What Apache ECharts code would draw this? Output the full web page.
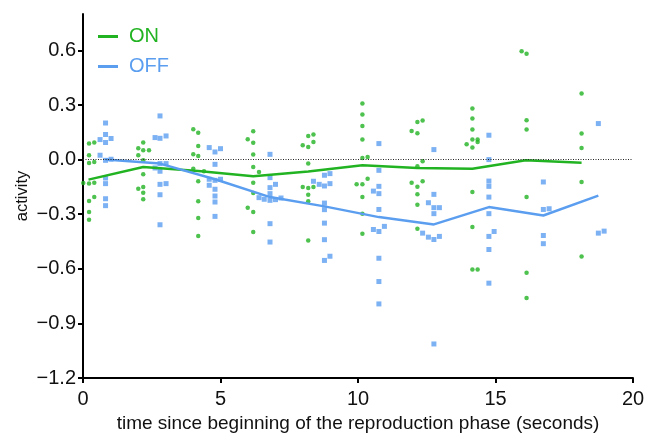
<!DOCTYPE html>
<html>
<head>
<meta charset="utf-8">
<script src="https://cdn.jsdelivr.net/npm/echarts@6/dist/echarts.min.js"></script>
<style>
  html, body { margin: 0; padding: 0; background: #fff; }
  #chart1 { width: 645px; height: 434px; }
</style>
</head>
<body>
<div id="chart1"></div>
<script>
// individual responses, [time, activity]
const onPoints = [
  [0.22, 0.088], [0.41, 0.094], [0.22, 0.024], [0.41, -0.013], [0.22, -0.019], [0.01, -0.129],
  [0.22, -0.132], [0.41, -0.127], [0.41, -0.206], [0.22, -0.228], [0.22, -0.288], [0.22, -0.33],
  [2.19, 0.094], [2.01, 0.063], [2.19, 0.051], [2.4, 0.051], [2.01, 0.024], [2.19, -0.004],
  [2.19, -0.081], [2.01, -0.16], [2.19, -0.151], [2.19, -0.182], [2.19, -0.218],
  [4.01, 0.167], [4.19, 0.147], [4.19, 0.075], [4.01, 0.029], [4.19, 0.02], [4.01, -0.05],
  [4.4, -0.064], [4.19, -0.119], [4.19, -0.229], [4.19, -0.321], [4.19, -0.42],
  [6.19, 0.156], [5.99, 0.112], [6.19, 0.092], [6.19, 0.028], [6.19, -0.041], [6.4, -0.068],
  [6.19, -0.127], [6.19, -0.184], [5.99, -0.264], [6.19, -0.288], [6.19, -0.398],
  [8.19, 0.13], [8.38, 0.138], [7.99, 0.079], [8.19, 0.069], [8.38, 0.097], [8.19, -0.022],
  [7.99, -0.151], [8.19, -0.156], [8.38, -0.151], [8.19, -0.193], [8.19, -0.229], [8.19, -0.444],
  [10.16, 0.308], [10.16, 0.248], [10.16, 0.185], [10.16, 0.11], [10.16, 0.009], [10.35, 0.014],
  [10.35, -0.105], [9.95, -0.136], [10.16, -0.136], [10.16, -0.206], [10.16, -0.297], [10.16, -0.407],
  [12.16, 0.207], [12.35, 0.215], [11.95, 0.157], [12.16, 0.145], [12.35, -0.009], [12.16, -0.037],
  [11.95, -0.127], [12.16, -0.149], [12.35, -0.119], [12.16, -0.191], [12.16, -0.248], [12.16, -0.38],
  [14.16, 0.281], [14.16, 0.226], [14.16, 0.165], [14.16, 0.11], [14.35, 0.11], [13.95, 0.084],
  [14.16, 0.066], [14.35, 0.097], [14.16, -0.178], [14.16, -0.371], [14.16, -0.604], [14.35, -0.604],
  [15.95, 0.596], [16.13, 0.581], [16.13, 0.216], [16.13, 0.165], [16.13, -0.206], [16.13, -0.622],
  [16.13, -0.76],
  [18.13, 0.363], [18.13, 0.143], [18.13, 0.064], [18.13, -0.123], [18.13, -0.532]
];

const offPoints = [
  [0.82, 0.201], [0.82, 0.138], [0.62, 0.11], [0.82, 0.094], [1.02, 0.116], [0.62, 0.024],
  [0.82, -0.004], [1.02, 0.002], [0.82, -0.101], [0.82, -0.132], [0.82, -0.215], [0.82, -0.253],
  [2.8, 0.24], [2.62, 0.121], [2.8, 0.117], [3.02, 0.13], [2.8, -0.022], [2.62, -0.046],
  [3.02, -0.022], [2.8, -0.064], [2.8, -0.136], [3.02, -0.132], [2.8, -0.193], [2.8, -0.358],
  [4.59, 0.066], [4.8, 0.042], [5.0, 0.06], [4.8, -0.026], [4.59, -0.108], [4.8, -0.114],
  [5.0, -0.108], [4.59, -0.141], [4.8, -0.163], [4.8, -0.2], [4.8, -0.233], [4.8, -0.312],
  [6.8, 0.029], [6.8, -0.099], [7.0, -0.136], [6.8, -0.154], [6.8, -0.187], [6.4, -0.209],
  [6.59, -0.218], [6.8, -0.224], [7.0, -0.22], [7.2, -0.211], [6.8, -0.352], [6.8, -0.453],
  [8.78, -0.086], [8.98, -0.077], [8.38, -0.119], [8.59, -0.136], [8.78, -0.145], [8.98, -0.132],
  [8.78, -0.239], [8.78, -0.275], [8.78, -0.349], [8.78, -0.44], [8.98, -0.531], [8.78, -0.554],
  [10.76, 0.088], [10.76, -0.059], [10.76, -0.147], [10.56, -0.173], [10.76, -0.187], [10.76, -0.274],
  [10.56, -0.384], [10.76, -0.395], [10.96, -0.367], [10.76, -0.542], [10.76, -0.67], [10.76, -0.793],
  [12.76, 0.055], [12.76, -0.191], [12.56, -0.237], [12.76, -0.264], [12.96, -0.264], [12.76, -0.297],
  [12.35, -0.404], [12.56, -0.426], [12.76, -0.439], [12.96, -0.422], [12.76, -1.013],
  [14.76, 0.134], [14.76, 0.0], [14.76, -0.118], [14.76, -0.147], [14.76, -0.206], [14.76, -0.297],
  [14.95, -0.395], [14.76, -0.422], [14.76, -0.494], [14.76, -0.679],
  [16.74, -0.123], [16.74, -0.274], [16.95, -0.27], [16.74, -0.417], [16.74, -0.462],
  [18.74, 0.198], [18.74, -0.404], [18.95, -0.393]
];

// mean lines
const onLineX = [0.2, 2.19, 4.19, 6.19, 8.19, 10.16, 12.16, 14.16, 16.1, 18.13];
const onLineY = [-0.11, -0.041, -0.063, -0.092, -0.066, -0.031, -0.046, -0.05, -0.004, -0.017];
const offLineX = [0.82, 2.8, 4.8, 6.8, 8.78, 10.76, 12.76, 14.76, 16.74, 18.74];
const offLineY = [0.0, -0.022, -0.108, -0.206, -0.257, -0.316, -0.356, -0.261, -0.307, -0.198];

const yTicks = [-1.2, -0.9, -0.6, -0.3, 0, 0.3, 0.6];
const xTicks = [0, 5, 10, 15, 20];

const green = '#22b322';
const blue = '#5b9ef0';
const font = 'Liberation Sans, Arial, sans-serif';

const chart1 = echarts.init(document.getElementById('chart1'));

const option = {
  animation: false,
  textStyle: { fontFamily: font },
  grid: { left: 83, right: 12, top: 14, bottom: 56, outerBoundsMode: 'none', containLabel: false },
  legend: {
    orient: 'vertical',
    left: 93,
    top: 21,
    itemWidth: 20,
    itemHeight: 3,
    itemGap: 9,
    icon: 'rect',
    textStyle: { fontSize: 20, lineHeight: 21, fontFamily: font, padding: [0, 0, 0, 6] },
    data: [
      { name: 'ON', textStyle: { color: green } },
      { name: 'OFF', textStyle: { color: blue } }
    ]
  },
  xAxis: {
    type: 'value',
    min: 0,
    max: 20,
    interval: 5,
    name: 'time since beginning of the reproduction phase (seconds)',
    nameLocation: 'middle',
    nameGap: 34,
    nameTextStyle: { fontSize: 19, color: '#111', fontFamily: font },
    splitLine: { show: false },
    axisLine: { onZero: false, lineStyle: { color: '#000', width: 2 } },
    axisTick: { length: 5, lineStyle: { color: '#000', width: 2 }, customValues: xTicks },
    axisLabel: { fontSize: 20, color: '#111', margin: 11, customValues: xTicks }
  },
  yAxis: {
    type: 'value',
    min: -1.2,
    max: 0.8,
    name: 'activity',
    nameLocation: 'middle',
    nameGap: 52,
    nameMoveOverlap: false,
    nameTextStyle: { fontSize: 16.5, color: '#111', fontFamily: font },
    splitLine: { show: false },
    axisLine: { onZero: false, lineStyle: { color: '#000', width: 2 } },
    axisTick: { length: 5, lineStyle: { color: '#000', width: 2 }, customValues: yTicks },
    axisLabel: {
      fontSize: 20, color: '#111', margin: 7, customValues: yTicks,
      formatter: v => v.toFixed(1).replace('-', '\u2212')
    }
  },
  series: [
    {
      name: 'ON points',
      type: 'scatter',
      data: onPoints,
      symbol: 'circle',
      symbolSize: 4.5,
      itemStyle: { color: green },
      markLine: {
        silent: true,
        symbol: 'none',
        label: { show: false },
        lineStyle: { color: '#222', type: [1, 1.5], width: 1 },
        data: [{ yAxis: 0 }]
      }
    },
    {
      name: 'OFF points',
      type: 'scatter',
      data: offPoints,
      symbol: 'rect',
      symbolSize: 5,
      itemStyle: { color: blue }
    },
    {
      name: 'ON',
      type: 'line',
      data: onLineX.map((x, i) => [x, onLineY[i]]),
      showSymbol: false,
      symbol: 'none',
      lineStyle: { color: green, width: 2.5 },
      itemStyle: { color: green },
      z: 3
    },
    {
      name: 'OFF',
      type: 'line',
      data: offLineX.map((x, i) => [x, offLineY[i]]),
      showSymbol: false,
      symbol: 'none',
      lineStyle: { color: blue, width: 2.5 },
      itemStyle: { color: blue },
      z: 3
    }
  ]
};

chart1.setOption(option);
</script>
</body>
</html>
